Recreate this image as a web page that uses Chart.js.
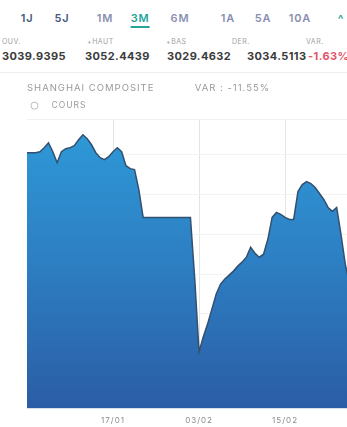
<!DOCTYPE html>
<html>
<head>
<meta charset="utf-8">
<script src="https://cdn.jsdelivr.net/npm/chart.js@4.4.1/dist/chart.umd.min.js"></script>
<style>
  html, body { margin: 0; padding: 0; background: #fff; width: 347px; height: 427px; overflow: hidden; font-family: Inter, "Open Sans", sans-serif; }
  .t { position: absolute; white-space: nowrap; }
  .btn { top: 11px; font-size: 11px; font-weight: 600; letter-spacing: 0.8px; color: #8a8fb0; transform: translateX(-50%); }
  .btn.dark { color: #45577e; }
  .btn.on { color: #25a39a; border-bottom: 2px solid #25a39a; padding-bottom: 1px; }
  .lab { top: 37px; font-size: 7px; letter-spacing: 0.5px; color: #a0a0a0; }
  .val { top: 49px; font-size: 11px; font-weight: 700; color: #3b3b3b; letter-spacing: 0.4px; }
  #wrap { position: absolute; left: 0; top: 70px; width: 347px; height: 365px; }
  #line { position: absolute; left: 0; top: 72px; width: 347px; height: 1px; background: #eeeeee; }
</style>
</head>
<body>
<div class="t btn dark" style="left:27px">1J</div>
<div class="t btn dark" style="left:62px">5J</div>
<div class="t btn" style="left:105px">1M</div>
<div class="t btn on" style="left:140px">3M</div>
<div class="t btn" style="left:180px">6M</div>
<div class="t btn" style="left:228px">1A</div>
<div class="t btn" style="left:263px">5A</div>
<div class="t btn" style="left:300px">10A</div>
<div class="t btn on" style="left:341px;border:none;font-size:12px">^</div>

<div class="t lab" style="left:2px">OUV.</div>
<div class="t lab" style="left:87px">+HAUT</div>
<div class="t lab" style="left:166px">+BAS</div>
<div class="t lab" style="left:232px">DER.</div>
<div class="t lab" style="left:306px">VAR.</div>

<div class="t val" style="left:2px">3039.9395</div>
<div class="t val" style="left:85px">3052.4439</div>
<div class="t val" style="left:167px">3029.4632</div>
<div class="t val" style="left:247px">3034.5113</div>
<div class="t val" style="left:308px;color:#e0566a">-1.63%</div>

<div id="line"></div>
<div id="wrap"><canvas id="chart"></canvas></div>

<script>
// trading-day index (0 = first day of the 3M window)
const dayIndex = [
  0, 1, 2, 3, 4, 5, 6, 7, 8, 9,
  10, 11, 12, 13, 14, 15, 16, 17, 18, 19,
  20, 21, 22, 23, 24, 25, 26, 27, 28, 29,
  30, 31, 32, 33, 34, 35, 36, 37, 38, 39,
  40, 41, 42, 43, 44, 45, 46, 47, 48, 49,
  50, 51, 52, 53, 54, 55, 56, 57, 58, 59,
  60, 61, 62, 63, 64, 65, 66, 67, 68, 69,
  70, 71, 72, 73, 74, 75
];

// index closing values (COURS)
const cours = [
  3528, 3528, 3528, 3532, 3548, 3568, 3532, 3488, 3532, 3544,
  3548, 3556, 3580, 3600, 3584, 3560, 3528, 3508, 3500, 3512,
  3532, 3548, 3532, 3476, 3464, 3460, 3380, 3268, 3268, 3268,
  3268, 3268, 3268, 3268, 3268, 3268, 3268, 3268, 3268, 3020,
  2728, 2788, 2840, 2900, 2960, 3000, 3020, 3036, 3052, 3072,
  3088, 3108, 3148, 3124, 3108, 3120, 3180, 3268, 3288, 3280,
  3268, 3260, 3260, 3372, 3400, 3412, 3404, 3388, 3364, 3340,
  3308, 3292, 3308, 3200, 3080, 3000
];

// x axis tick labels
const tickIndex = [20, 40, 60];
const tickLabels = ['17/01', '03/02', '15/02'];

const points = dayIndex.map((x, i) => ({ x: x, y: cours[i] }));

Chart.defaults.font.family = 'Inter, "Open Sans", sans-serif';

// wide letter spacing like the app's font
const spacing = {
  id: 'spacing',
  beforeUpdate: chart => { chart.ctx.letterSpacing = '1px'; },
  beforeDraw: chart => { chart.ctx.letterSpacing = '1px'; }
};

new Chart(document.getElementById('chart'), {
  type: 'line',
  plugins: [spacing],
  data: {
    datasets: [{
      label: 'COURS',
      data: points,
      borderColor: '#33506f',
      borderWidth: 1.5,
      pointRadius: 0,
      tension: 0,
      fill: 'start',
      backgroundColor: function (context) {
        const area = context.chart.chartArea;
        if (!area) return '#2e7cc0';
        const g = context.chart.ctx.createLinearGradient(0, area.top, 0, area.bottom);
        g.addColorStop(0, '#2e9bd9');
        g.addColorStop(0.5, '#2d7ec2');
        g.addColorStop(1, '#2b5da5');
        return g;
      }
    }]
  },
  options: {
    responsive: true,
    maintainAspectRatio: false,
    animation: false,
    layout: { padding: { left: 27, right: 0, top: 0, bottom: 3 } },
    scales: {
      x: {
        type: 'linear',
        min: 0,
        max: 74.4,
        afterBuildTicks: axis => {
          axis.ticks = tickIndex.map(v => ({ value: v }));
        },
        ticks: {
          autoSkip: false,
          maxRotation: 0,
          padding: 7,
          color: '#8a8a8a',
          font: { size: 8 },
          callback: value => tickLabels[tickIndex.indexOf(value)] || ''
        },
        grid: { color: '#e4e4e4', drawTicks: false },
        border: { display: false }
      },
      y: {
        min: 2500,
        max: 3660,
        display: true,
        ticks: { display: false, stepSize: 160 },
        grid: { color: '#f2f2f2', drawTicks: false },
        border: { display: false }
      }
    },
    plugins: {
      title: {
        display: true,
        text: 'SHANGHAI COMPOSITE           VAR : -11.55%',
        align: 'start',
        color: '#9a9a9a',
        font: { size: 9.5, weight: 'normal' },
        padding: { top: 12, bottom: 3 }
      },
      legend: {
        display: true,
        align: 'start',
        labels: {
          usePointStyle: true,
          pointStyle: 'circle',
          boxWidth: 5,
          boxHeight: 5,
          color: '#9a9a9a',
          font: { size: 8.5 },
          padding: 5,
          generateLabels: chart => [{
            text: '   COURS',
            fillStyle: '#ffffff',
            strokeStyle: '#bbbbbb',
            lineWidth: 1,
            pointStyle: 'circle',
            fontColor: '#9a9a9a',
            datasetIndex: 0
          }]
        }
      },
      tooltip: { enabled: false }
    }
  }
});
</script>
</body>
</html>
